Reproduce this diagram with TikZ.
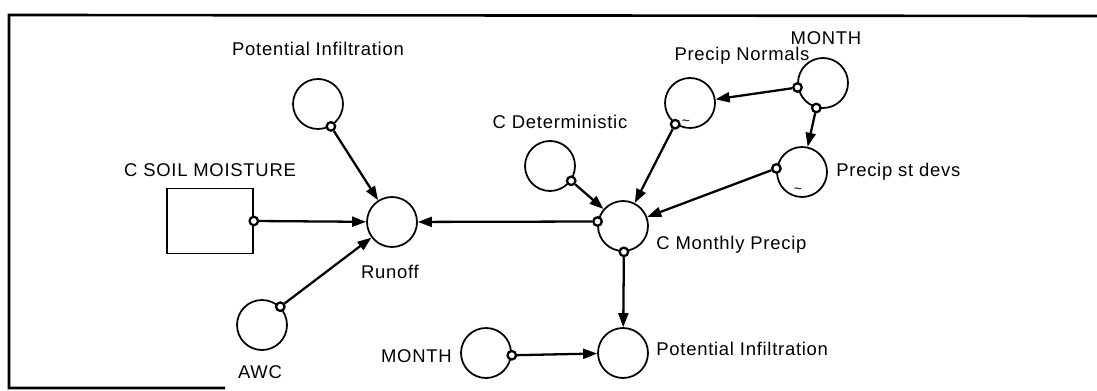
\documentclass[tikz,border=0pt]{standalone}
\usepackage{fontspec}
\setmainfont{Liberation Sans}[LetterSpace=4]
\usetikzlibrary{arrows.meta,positioning}

\tikzset{
  conv/.style={circle,draw,line width=1pt,minimum size=1cm,inner sep=0pt},
  stock/.style={rectangle,draw,line width=0.9pt,minimum width=1.72cm,minimum height=1.3cm},
  tap/.style={circle,draw,fill=white,line width=1.3pt,minimum size=0.17cm,inner sep=0pt},
  link/.style={line width=1.3pt,-{Triangle[length=0.28cm,width=0.2cm]}},
  lbl/.style={font=\fontsize{10.5}{12}\selectfont,inner sep=0pt},
  wiggle/.style={font=\fontsize{8}{8}\selectfont,inner sep=0pt}
}

\begin{document}
\begin{tikzpicture}[x=0.02cm,y=-0.02cm]
  \useasboundingbox (0,0) rectangle (1097,391);
  % frame
  \draw[line width=1.5pt] (1097,16) -- (9,15) -- (9,388) -- (225,388);

  % variables
  \node[conv] (piTop) at (318,104) {};
  \node[stock] (soil) at (210,221) {};
  \node[conv] (runoff) at (392,222) {};
  \node[conv] (awc) at (262,325) {};
  \node[conv] (cdet) at (550,166) {};
  \node[conv] (cmp) at (623,226) {};
  \node[conv] (pn) at (690,103) {};
  \node[conv] (month) at (823,83) {};
  \node[conv] (psd) at (802,172) {};
  \node[conv] (month2) at (486,353) {};
  \node[conv] (piBot) at (623,353) {};

  % labels
  \node[lbl] (piTopL) at (318,49) {Potential Infiltration};
  \node[lbl] (soilL) at (210,170) {C SOIL MOISTURE};
  \node[lbl] (runoffL) at (390,272) {Runoff};
  \node[lbl] (awcL) at (260,372) {AWC};
  \node[lbl] (cdetL) at (560,122) {C Deterministic};
  \node[lbl,anchor=west] (cmpL) at (656,245) {C Monthly Precip};
  \node[lbl] (pnL) at (742,56) {Precip Normals};
  \node[lbl] (monthL) at (826,38) {MONTH};
  \node[lbl,anchor=west] (psdL) at (836,172) {Precip st devs};
  \node[lbl,anchor=east] (month2L) at (452,356) {MONTH};
  \node[lbl,anchor=west] (piBotL) at (656,349) {Potential Infiltration};

  % graph marks
  \node[wiggle] (pnW) at ([shift={(-4,-6)}]pn.south) {\textasciitilde};
  \node[wiggle] (psdW) at ([shift={(-4,-7)}]psd.south) {\textasciitilde};

  % connector taps
  \node[tap] (t1) at (piTop.-60) {};
  \node[tap] (t2) at (soil.east) {};
  \node[tap] (t3) at (awc.45) {};
  \node[tap] (t4) at (cmp.170) {};
  \node[tap] (t5) at (cdet.-35) {};
  \node[tap] (t6) at (pn.-125) {};
  \node[tap] (t7) at (psd.172) {};
  \node[tap] (t8) at (month.190) {};
  \node[tap] (t9) at (month.-105) {};
  \node[tap] (t10) at (cmp.-88) {};
  \node[tap] (t11) at (month2.-5) {};

  % connectors
  \draw[link] (t1) -- (runoff);
  \draw[link] (t2) -- (runoff);
  \draw[link] (t3) -- (runoff);
  \draw[link] (t4) -- (runoff);
  \draw[link] (t5) -- (cmp);
  \draw[link] (t6) -- (cmp);
  \draw[link] (t7) -- (cmp);
  \draw[link] (t8) -- (pn);
  \draw[link] (t9) -- (psd);
  \draw[link] (t10) -- (piBot);
  \draw[link] (t11) -- (piBot);
\end{tikzpicture}
\end{document}
